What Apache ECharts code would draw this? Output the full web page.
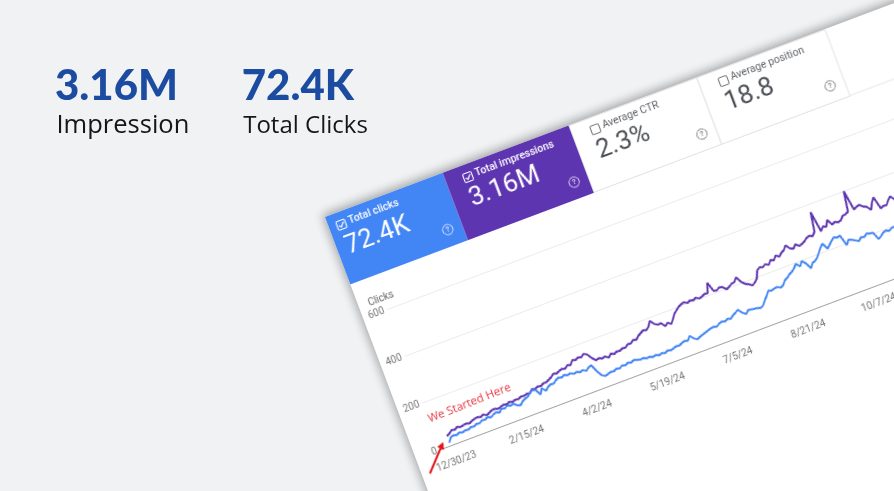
<!DOCTYPE html>
<html>
<head>
<meta charset="utf-8">
<script src="https://cdn.jsdelivr.net/npm/echarts@6/dist/echarts.min.js"></script>
<style>
html,body{margin:0;padding:0;width:894px;height:491px;overflow:hidden;background:#f1f2f4;}
#bg{position:absolute;left:0;top:0;width:894px;height:491px;}
#card{position:absolute;left:325px;top:216.7px;width:700px;height:480px;background:#ffffff;
  transform-origin:0 0;transform:rotate(-20.6deg);box-shadow:-2px -3px 9px rgba(0,0,0,0.32);}
</style>
</head>
<body>
<div id="bg"></div>
<div id="card"></div>
<script>
// ---------- data ----------
const headline = [['3.16M', 'Impression'], ['72.4K', 'Total Clicks']];
const tiles = [
  { label: 'Total clicks', value: '72.4K', active: true, color: '#4285f4' },
  { label: 'Total impressions', value: '3.16M', active: true, color: '#5e35b1' },
  { label: 'Average CTR', value: '2.3%', active: false, color: '#ffffff' },
  { label: 'Average position', value: '18.8', active: false, color: '#ffffff' }
];
const tickLabels = ['12/30/23', '2/15/24', '4/2/24', '5/19/24', '7/5/24', '8/21/24', '10/7/24', '11/23/24'];
const tickDays = [0, 47, 94, 141, 188, 235, 282, 329];
const DAY_STEP = 2; // one reading every 2 days, starting 12/30/23

// daily clicks (left axis)
const clicks = [
  14, 32, 36, 32, 38, 34, 38, 36, 42, 40,
  46, 44, 52, 50, 56, 50, 58, 62, 56, 68,
  64, 72, 66, 70, 58, 54, 66, 72, 76, 86,
  94, 90, 66, 88, 72, 84, 90, 88, 98, 104,
  100, 106, 100, 104, 96, 100, 94, 98, 90, 100,
  104, 74, 52, 44, 48, 52, 50, 56, 52, 60,
  56, 62, 58, 64, 60, 56, 58, 52, 54, 48,
  52, 46, 50, 46, 52, 48, 52, 56, 54, 60,
  64, 60, 76, 60, 52, 58, 62, 66, 70, 74,
  76, 72, 80, 84, 80, 86, 82, 92, 98, 106,
  88, 78, 90, 88, 86, 84, 80, 88, 104, 118,
  134, 130, 134, 136, 128, 134, 150, 156, 166, 172,
  182, 196, 180, 198, 184, 158, 176, 180, 190, 206,
  222, 234, 208, 220, 232, 242, 236, 240, 194, 212,
  208, 200, 192, 204, 200, 210, 206, 204, 172, 180,
  190, 194, 188, 196, 196, 200, 194, 204, 198, 202
];
// daily impressions (right axis)
const impressions = [
  2100, 2400, 2900, 2750, 3100, 2850, 3000, 3100, 2900, 3200,
  3400, 3500, 3300, 3600, 3200, 3500, 3800, 3850, 3600, 3800,
  4000, 3850, 4100, 3900, 4100, 4000, 4300, 4200, 4400, 4300,
  4900, 4700, 5000, 4850, 5200, 5200, 5500, 5800, 6300, 6100,
  6400, 6600, 6400, 6900, 6700, 7500, 7300, 7600, 7400, 7900,
  7500, 6500, 5800, 6000, 5700, 5900, 5400, 6000, 5700, 6000,
  5900, 6200, 6100, 6600, 6500, 7000, 6800, 7400, 7750, 8100,
  7900, 8400, 9400, 8500, 8100, 8200, 7300, 7800, 7300, 8100,
  9000, 9500, 10000, 10300, 10500, 10100, 10400, 10200, 10500, 10100,
  10300, 10600, 10500, 12500, 10500, 10400, 10800, 10600, 9900, 10200,
  10600, 10700, 11500, 10300, 9600, 9300, 8800, 9200, 9800, 11300,
  11700, 11500, 11900, 11500, 12300, 12000, 12800, 12300, 12900, 13200,
  14000, 13100, 12800, 13500, 12900, 13100, 13400, 13900, 14100, 13800,
  14500, 18400, 14100, 14900, 14600, 15800, 14600, 14900, 14600, 14800,
  15500, 15600, 15900, 20000, 15900, 16200, 16400, 15800, 15500, 14600,
  15900, 16800, 14200, 14500, 14400, 15200, 15800, 14900, 15400, 15600
];

// ---------- background headline ----------
const bg = echarts.init(document.getElementById('bg'), null, { renderer: 'canvas' });
const bgX = [55, 241.7];
bg.setOption({
  animation: false,
  graphic: headline.flatMap((h, i) => [
    { type: 'text', x: bgX[i], y: 86.8,
      style: { text: h[0], font: '900 42px Lato', fill: '#1c4ca1', verticalAlign: 'middle' } },
    { type: 'text', x: bgX[i] + 1.5, y: 125.9,
      style: { text: h[1], font: '400 ' + (i === 0 ? 25.5 : 24) + 'px "Open Sans"', fill: '#161616', verticalAlign: 'middle' } }
  ])
});

// ---------- rotated Search Console card ----------
const card = echarts.init(document.getElementById('card'), null, { renderer: 'canvas' });
const tileEdges = [0, 125.5, 260.5, 397, 534];
const boxX = [12.7, 148, 284, 421];
const valueX = [9, 142, 278, 415];

const g = [];
tiles.forEach((t, i) => {
  const x0 = tileEdges[i], x1 = tileEdges[i + 1];
  g.push({ type: 'rect', shape: { x: x0, y: t.active ? 0 : 0.5, width: x1 - x0, height: t.active ? 72 : 71 },
    style: { fill: t.color, stroke: t.active ? null : '#e2e2e2', lineWidth: 1 }, z: 1 });
  const fg = t.active ? '#ffffff' : '#5f6368';
  const cx = boxX[i], cy = 13;
  g.push({ type: 'rect', shape: { x: cx - 4.5, y: cy - 4.5, width: 9, height: 9, r: 1.5 },
    style: { fill: 'none', stroke: t.active ? '#ffffff' : '#7b7b7b', lineWidth: 1.1 }, z: 2 });
  if (t.active) {
    g.push({ type: 'polyline', shape: { points: [[cx - 2.6, cy + 0.1], [cx - 0.8, cy + 2], [cx + 2.8, cy - 2.2]] },
      style: { stroke: '#ffffff', lineWidth: 1.2, fill: null }, z: 2 });
  }
  g.push({ type: 'text', x: cx + 8, y: 12.5,
    style: { text: t.label, font: (t.active ? '500 ' : '400 ') + '10.5px Roboto', fill: fg, verticalAlign: 'middle' }, z: 2 });
  g.push({ type: 'text', x: valueX[i], y: i === 0 ? 36.2 : 35.2,
    style: { text: t.value, font: '400 26px Roboto', fill: t.active ? '#ffffff' : '#4d5156', verticalAlign: 'middle' }, z: 2 });
  const hc = t.active ? 'rgba(255,255,255,0.75)' : '#8a8a8a';
  g.push({ type: 'circle', shape: { cx: x1 - 15, cy: 55, r: 5.2 }, style: { fill: 'none', stroke: hc, lineWidth: 1 }, z: 2 });
  g.push({ type: 'text', x: x1 - 15, y: 55.3,
    style: { text: '?', font: 'bold 7.5px Roboto', fill: hc, align: 'center', verticalAlign: 'middle' }, z: 2 });
});
g.push({ type: 'line', shape: { x1: 534, y1: 71, x2: 700, y2: 71 }, style: { stroke: '#e6e6e6', lineWidth: 1 }, z: 1 });
// annotation
g.push({ type: 'text', x: 25.6, y: 226, rotation: 0.02,
  style: { text: 'We Started Here', font: '11.5px "Open Sans"', fill: '#e8353f', verticalAlign: 'middle' }, z: 5 });
g.push({ type: 'line', shape: { x1: 8, y1: 277, x2: 27, y2: 257 }, style: { stroke: '#e3141b', lineWidth: 2 }, z: 5 });
g.push({ type: 'polygon', shape: { points: [[31.5, 252.2], [29.4, 259.9], [24.1, 254.8]] }, style: { fill: '#e3141b' }, z: 5 });

card.setOption({
  animation: false,
  grid: { left: 25.5, right: 61.4, top: 108.5, bottom: 221.5, containLabel: false },
  xAxis: {
    type: 'value', min: -7.2, max: 376,
    axisLine: { show: true, lineStyle: { color: '#a3a3a3', width: 1 } },
    axisTick: { show: false },
    splitLine: { show: false },
    axisLabel: {
      customValues: tickDays,
      margin: 12, fontSize: 10, fontFamily: 'Roboto', color: '#757575',
      formatter: v => { const k = tickDays.indexOf(Math.round(v)); return k >= 0 ? tickLabels[k] : ''; }
    }
  },
  yAxis: [
    { type: 'value', min: 0, max: 600, interval: 200,
      name: 'Clicks', nameLocation: 'end', nameGap: 12.5,
      nameTextStyle: { align: 'right', verticalAlign: 'middle', fontSize: 10, fontFamily: 'Roboto', color: '#666666' },
      axisLine: { show: false }, axisTick: { show: false },
      axisLabel: { margin: 3, fontSize: 10, fontFamily: 'Roboto', color: '#777777' },
      splitLine: { lineStyle: { color: '#ececec', width: 1 } } },
    { type: 'value', min: 0, max: 30000, interval: 10000, show: false, splitLine: { show: false } }
  ],
  series: [
    { name: 'Impressions', type: 'line', yAxisIndex: 1, showSymbol: false, smooth: false,
      data: impressions.map((v, i) => [i * DAY_STEP, v]),
      lineStyle: { color: '#5e35b1', width: 2 }, itemStyle: { color: '#5e35b1' }, z: 3 },
    { name: 'Clicks', type: 'line', yAxisIndex: 0, showSymbol: false, smooth: false,
      data: clicks.map((v, i) => [i * DAY_STEP, v]),
      lineStyle: { color: '#4285f4', width: 2 }, itemStyle: { color: '#4285f4' }, z: 4 }
  ],
  graphic: g
});
</script>
</body>
</html>
